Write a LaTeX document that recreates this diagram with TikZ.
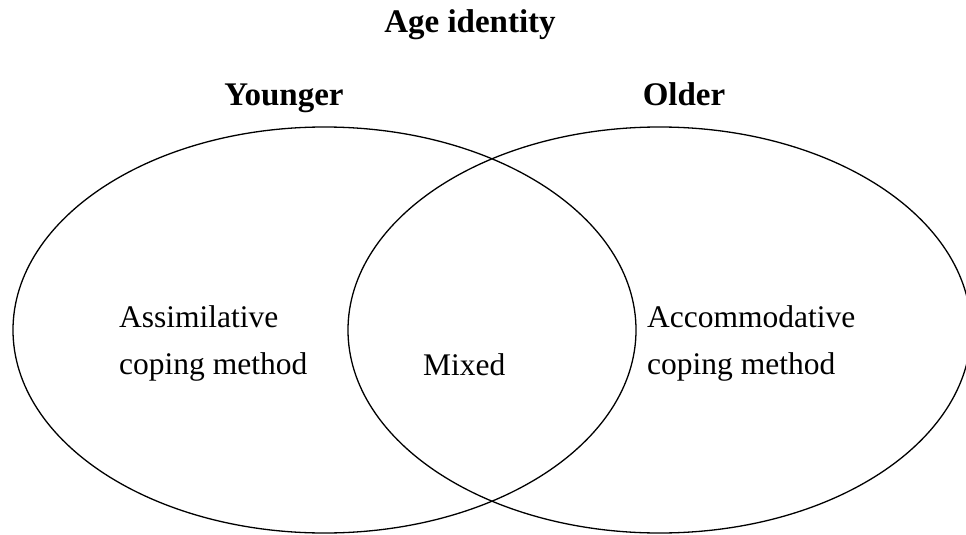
\documentclass[tikz,border=0pt]{standalone}
\usepackage{fontspec}
\setmainfont{Liberation Serif}
\begin{document}
\begin{tikzpicture}[x=1pt,y=-1pt,
  circ/.style={draw=black,line width=1.3pt},
  heading/.style={font=\fontsize{33}{40}\selectfont\bfseries,inner sep=0pt,anchor=base},
  label/.style={font=\fontsize{31.5}{47}\selectfont,inner sep=0pt,align=left,anchor=base west}]
\useasboundingbox (0,0) rectangle (966,535);
\draw[circ] (324.5,330) ellipse [x radius=311.5,y radius=203];
\draw[circ] (659.5,330) ellipse [x radius=311.5,y radius=203];
\node[heading] (title) at (470,33) {Age identity};
\node[heading] (young) at (284,105) {Younger};
\node[heading] (old) at (684,105) {Older};
\node[label] (assim) at (119,374) {Assimilative\\coping method};
\node[label] (mixed) at (423,375) {Mixed};
\node[label] (accom) at (647,374) {Accommodative\\coping method};
\end{tikzpicture}
\end{document}
